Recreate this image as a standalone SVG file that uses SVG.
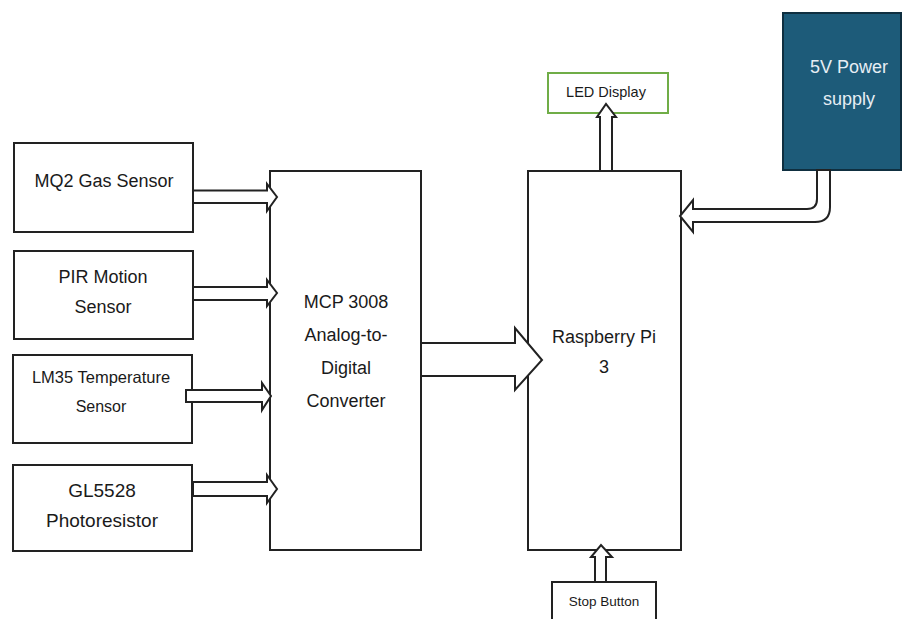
<svg xmlns="http://www.w3.org/2000/svg" width="903" height="619" viewBox="0 0 903 619">
<style>
.box{fill:#fff;stroke:#222;stroke-width:2}
.arr{fill:#fff;stroke:#222;stroke-width:2;stroke-linejoin:miter}
.t{font-family:"Liberation Sans",Arial,sans-serif;fill:#1a1a1a;text-anchor:middle}
</style>
<rect width="903" height="619" fill="#fff"/>
<g id="mq2"><rect class="box" x="14" y="143" width="179" height="89"/><text class="t" x="104" y="187" font-size="18">MQ2 Gas Sensor</text></g>
<g id="pir"><rect class="box" x="14" y="251" width="179" height="88"/><text class="t" x="103" y="283" font-size="18">PIR Motion</text><text class="t" x="103" y="313" font-size="18">Sensor</text></g>
<g id="lm35"><rect class="box" x="13" y="355" width="179" height="88"/><text class="t" x="101" y="383" font-size="16.5">LM35 Temperature</text><text class="t" x="101" y="412" font-size="16">Sensor</text></g>
<g id="gl5528"><rect class="box" x="13" y="465" width="179" height="86"/><text class="t" x="102" y="497" font-size="19">GL5528</text><text class="t" x="102" y="527" font-size="19">Photoresistor</text></g>
<g id="mcp"><rect class="box" x="270" y="171" width="151" height="379"/><text class="t" x="346" y="308" font-size="18">MCP 3008</text><text class="t" x="346" y="341" font-size="18">Analog-to-</text><text class="t" x="346" y="374" font-size="18">Digital</text><text class="t" x="346" y="407" font-size="18">Converter</text></g>
<g id="rpi"><rect class="box" x="528" y="171" width="153" height="379"/><text class="t" x="604" y="343" font-size="18">Raspberry Pi</text><text class="t" x="604" y="373" font-size="18">3</text></g>
<g id="led"><rect x="548" y="73" width="120" height="40" fill="#fff" stroke="#70ad47" stroke-width="2"/><text class="t" x="606" y="97" font-size="14.5">LED Display</text></g>
<g id="power"><rect x="783" y="13" width="118" height="157" fill="#1d5b79" stroke="#0f2f40" stroke-width="2"/><text class="t" x="849" y="73" font-size="18" style="fill:#e6eef4">5V Power</text><text class="t" x="849" y="105" font-size="18" style="fill:#e6eef4">supply</text></g>
<g id="stop"><rect class="box" x="552" y="582" width="104" height="45"/><text class="t" x="604" y="606" font-size="13.5">Stop Button</text></g>
<g id="connectors">
<polygon class="arr" points="193,190.5 267,190.5 267,184 277,197 267,211 267,203 193,203"/>
<polygon class="arr" points="193,287 267,287 267,280 277,293 267,306 267,300 193,300"/>
<polygon class="arr" points="186,390 262,390 262,383 271,396 262,410 262,402 186,402"/>
<polygon class="arr" points="193,482 267,482 267,475 277,489 267,503 267,496 193,496"/>
<polygon class="arr" points="421,343 515,343 515,328 542,360 515,390 515,376 421,376"/>
<polygon class="arr" points="600,171 600,117 597,117 606,104 616,117 612,117 612,171"/>
<polygon class="arr" points="595,582 595,557 591,557 601,545 612,557 606,557 606,582"/>
<path class="arr" d="M830,170 L830,207 Q830,222 815,222 L693,222 L693,232 L680,216 L693,200 L693,209 L807,209 Q817,209 817,199 L817,170 Z"/>
</g>
</svg>
